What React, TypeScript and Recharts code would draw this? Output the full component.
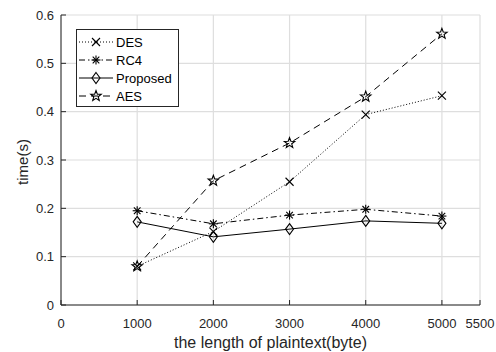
import React from 'react';
import { LineChart, Line, XAxis, YAxis, CartesianGrid, Legend } from 'recharts';

const lengths = [1000, 2000, 3000, 4000, 5000];
const desTimes = [0.080, 0.152, 0.255, 0.394, 0.433];
const rc4Times = [0.195, 0.168, 0.186, 0.198, 0.184];
const proposedTimes = [0.172, 0.141, 0.157, 0.174, 0.169];
const aesTimes = [0.080, 0.257, 0.335, 0.431, 0.561];
const xTicks = [0, 1000, 2000, 3000, 4000, 5000, 5500];
const yTicks = [0, 0.1, 0.2, 0.3, 0.4, 0.5, 0.6];
const seriesNames = ['DES', 'RC4', 'Proposed', 'AES'];

const data = lengths.map((x, i) => ({
  x,
  des: desTimes[i],
  rc4: rc4Times[i],
  proposed: proposedTimes[i],
  aes: aesTimes[i],
}));

const INK = '#262626';
const FONT = '"Liberation Sans", Arial, Helvetica, sans-serif';

type Kind = 'cross' | 'asterisk' | 'diamond' | 'star';

const MarkerShape = ({ cx, cy, kind }: { cx: number; cy: number; kind: Kind }) => {
  const s = { stroke: '#000', strokeWidth: 1.1, fill: 'none' };
  if (kind === 'cross') {
    const r = 4;
    return (
      <g>
        <line x1={cx - r} y1={cy - r} x2={cx + r} y2={cy + r} {...s} />
        <line x1={cx - r} y1={cy + r} x2={cx + r} y2={cy - r} {...s} />
      </g>
    );
  }
  if (kind === 'asterisk') {
    const r = 4.5;
    const d = 3.3;
    return (
      <g>
        <line x1={cx - r} y1={cy} x2={cx + r} y2={cy} {...s} />
        <line x1={cx} y1={cy - r} x2={cx} y2={cy + r} {...s} />
        <line x1={cx - d} y1={cy - d} x2={cx + d} y2={cy + d} {...s} />
        <line x1={cx - d} y1={cy + d} x2={cx + d} y2={cy - d} {...s} />
      </g>
    );
  }
  if (kind === 'diamond') {
    const w = 4;
    const h = 5.5;
    return <polygon points={`${cx},${cy - h} ${cx + w},${cy} ${cx},${cy + h} ${cx - w},${cy}`} {...s} />;
  }
  const pts: string[] = [];
  for (let k = 0; k < 10; k++) {
    const ang = -Math.PI / 2 + (k * Math.PI) / 5;
    const r = k % 2 === 0 ? 5.5 : 2.3;
    pts.push(`${cx + r * Math.cos(ang)},${cy + r * Math.sin(ang)}`);
  }
  return <polygon points={pts.join(' ')} {...s} />;
};

const makeDot = (kind: Kind) => (props: any) => (
  <MarkerShape key={`${kind}-${props.index}`} cx={props.cx} cy={props.cy} kind={kind} />
);

const legendItems: { name: string; kind: Kind; dash?: string }[] = [
  { name: seriesNames[0], kind: 'cross', dash: '1 2' },
  { name: seriesNames[1], kind: 'asterisk', dash: '6 3 1.5 3' },
  { name: seriesNames[2], kind: 'diamond' },
  { name: seriesNames[3], kind: 'star', dash: '7 5' },
];

const LegendBox = () => (
  <svg width={103} height={78} style={{ display: 'block' }}>
    <rect x={0.5} y={0.5} width={102} height={77} fill="#fff" stroke={INK} strokeWidth={1} />
    {legendItems.map((it, i) => {
      const y = 13 + i * 18;
      return (
        <g key={it.name}>
          <line x1={3} y1={y} x2={37} y2={y} stroke="#000" strokeWidth={1} strokeDasharray={it.dash} />
          <MarkerShape cx={20} cy={y} kind={it.kind} />
          <text x={40} y={y} dy="0.36em" fontSize={13} fill="#000" fontFamily={FONT}>
            {it.name}
          </text>
        </g>
      );
    })}
  </svg>
);

const YLabel = (props: any) => {
  const vb = props.viewBox || { x: 0, y: 15, width: 61, height: 290 };
  const x = vb.x + 22;
  const y = vb.y + vb.height / 2 + 2;
  return (
    <text
      x={x}
      y={y}
      transform={`rotate(-90 ${x} ${y})`}
      textAnchor="middle"
      dominantBaseline="central"
      fontSize={15}
      fill={INK}
      fontFamily={FONT}
    >
      time(s)
    </text>
  );
};

const XLabel = (props: any) => {
  const vb = props.viewBox || { x: 61, y: 305, width: 419, height: 47 };
  return (
    <text
      x={vb.x + vb.width / 2}
      y={vb.y + 43}
      textAnchor="middle"
      fontSize={16}
      fill={INK}
      fontFamily={FONT}
    >
      the length of plaintext(byte)
    </text>
  );
};

const tickStyle = { fontSize: 13, fill: INK, fontFamily: FONT };

export default function App() {
  return (
    <div style={{ position: 'absolute', left: 0, top: 0, background: '#fff' }}>
      <LineChart width={496} height={352} data={data} margin={{ top: 15, right: 16, bottom: 0, left: 0 }}>
        <CartesianGrid stroke="#dedede" strokeWidth={1.2} />
        <XAxis
          dataKey="x"
          type="number"
          domain={[0, 5500]}
          ticks={xTicks}
          interval={0}
          height={47}
          tickSize={-5}
          tickMargin={19}
          tick={tickStyle}
          stroke={INK}
          axisLine={{ stroke: INK }}
          tickLine={{ stroke: INK }}
          label={<XLabel />}
        />
        <XAxis
          xAxisId="top"
          orientation="top"
          dataKey="x"
          type="number"
          domain={[0, 5500]}
          ticks={xTicks}
          interval={0}
          height={0}
          tickSize={-5}
          tick={false}
          stroke={INK}
        />
        <YAxis
          type="number"
          domain={[0, 0.6]}
          ticks={yTicks}
          interval={0}
          width={61}
          tickSize={-5}
          tickMargin={12}
          tick={tickStyle}
          stroke={INK}
          label={<YLabel />}
        />
        <YAxis
          yAxisId="right"
          orientation="right"
          type="number"
          domain={[0, 0.6]}
          ticks={yTicks}
          interval={0}
          width={0}
          tickSize={-5}
          tick={false}
          stroke={INK}
        />
        <Legend
          layout="vertical"
          align="center"
          verticalAlign="middle"
          content={<LegendBox />}
          wrapperStyle={{ left: 76, top: 29, width: 103, height: 78 }}
        />
        <Line
          dataKey="des"
          name={seriesNames[0]}
          stroke="#000"
          strokeWidth={1}
          strokeDasharray="1 2"
          dot={makeDot('cross')}
          isAnimationActive={false}
        />
        <Line
          dataKey="rc4"
          name={seriesNames[1]}
          stroke="#000"
          strokeWidth={1}
          strokeDasharray="6 3 1.5 3"
          dot={makeDot('asterisk')}
          isAnimationActive={false}
        />
        <Line
          dataKey="proposed"
          name={seriesNames[2]}
          stroke="#000"
          strokeWidth={1}
          dot={makeDot('diamond')}
          isAnimationActive={false}
        />
        <Line
          dataKey="aes"
          name={seriesNames[3]}
          stroke="#000"
          strokeWidth={1}
          strokeDasharray="7 5"
          dot={makeDot('star')}
          isAnimationActive={false}
        />
      </LineChart>
    </div>
  );
}
